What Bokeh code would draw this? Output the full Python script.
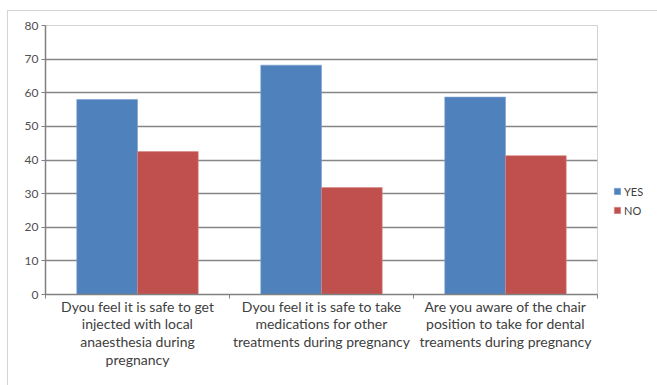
from bokeh.plotting import figure
from bokeh.models import (ColumnDataSource, FixedTicker, Legend, LegendItem, Range1d)
from bokeh.embed import file_html
from bokeh.resources import INLINE

# Survey questions (x-axis categories) and answer shares in percent
questions = [
    "Dyou feel it is safe to get\ninjected with local\nanaesthesia during\npregnancy",
    "Dyou feel it is safe to take\nmedications for other\ntreatments during pregnancy",
    "Are you aware of the chair\nposition to take for dental\ntreaments during pregnancy",
]
yes_values = [58.0, 68.2, 58.7]
no_values = [42.5, 31.8, 41.3]
series_names = ["YES", "NO"]
series_colors = ["#4F81BD", "#C0504D"]

centers = [i + 0.5 for i in range(len(questions))]
bar_w = 0.33

src = ColumnDataSource(dict(
    x_yes=[c - bar_w / 2 for c in centers],
    x_no=[c + bar_w / 2 for c in centers],
    yes=yes_values,
    no=no_values,
))

FONT = "Lato"
GREY_TXT = "#404040"

p = figure(
    frame_width=552, frame_height=269,
    x_range=Range1d(0, len(questions)), y_range=Range1d(0, 80),
    output_backend="svg", toolbar_location=None,
    min_border_left=37, min_border_right=0,
    min_border_top=14, min_border_bottom=92,
    margin=(10, 0, 0, 7),
    styles={"border-top": "1px solid #d4d4d4", "border-left": "1px solid #d4d4d4"},
)

r_yes = p.vbar(x="x_yes", top="yes", width=bar_w, source=src,
               fill_color=series_colors[0], line_color="#7aa0d4", line_width=0.6)
r_no = p.vbar(x="x_no", top="no", width=bar_w, source=src,
              fill_color=series_colors[1], line_color="#d98684", line_width=0.6)

# y axis: 0..80 step 10
p.yaxis.ticker = FixedTicker(ticks=list(range(0, 81, 10)))
p.yaxis.axis_line_color = "#808080"
p.yaxis.axis_line_width = 1.5
p.yaxis.major_tick_line_color = "#808080"
p.yaxis.major_tick_in = 0
p.yaxis.major_tick_out = 4
p.yaxis.minor_tick_line_color = None
p.yaxis.major_label_text_font = FONT
p.yaxis.major_label_text_font_size = "12px"
p.yaxis.major_label_text_color = "#505050"
p.yaxis.major_label_standoff = 3

# x axis: labels at category centres, tick marks at category boundaries
p.xaxis.ticker = FixedTicker(ticks=centers, minor_ticks=list(range(len(questions) + 1)))
p.xaxis.major_label_overrides = {c: q for c, q in zip(centers, questions)}
p.xaxis.major_tick_line_color = None
p.xaxis.minor_tick_line_color = "#808080"
p.xaxis.minor_tick_in = 0
p.xaxis.minor_tick_out = 4
p.xaxis.axis_line_color = "#808080"
p.xaxis.axis_line_width = 1.5
p.xaxis.major_label_text_font = FONT
p.xaxis.major_label_text_font_size = "14px"
p.xaxis.major_label_text_line_height = 1.05
p.xaxis.major_label_text_color = GREY_TXT
p.xaxis.major_label_standoff = -3

p.xgrid.grid_line_color = None
p.ygrid.grid_line_color = "#868686"
p.ygrid.grid_line_width = 1.6

p.outline_line_color = "#d4d4d4"
p.background_fill_color = "white"
p.border_fill_color = "white"

legend = Legend(
    items=[LegendItem(label=series_names[0], renderers=[r_yes]),
           LegendItem(label=series_names[1], renderers=[r_no])],
    location=(16, 77),
    glyph_width=8, glyph_height=8,
    label_height=14, spacing=5, label_standoff=3,
    padding=0, margin=0,
    border_line_color=None, background_fill_alpha=0,
    label_text_font=FONT, label_text_font_size="11px", label_text_color=GREY_TXT,
)
p.add_layout(legend, "right")

open("out.html", "w").write(file_html(p, INLINE))
